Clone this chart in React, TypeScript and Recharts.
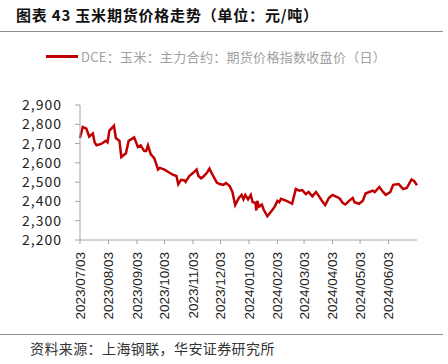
import { Legend, Line, LineChart, XAxis, YAxis } from "recharts";

const dates = [
  "2023/07/03", "2023/07/06", "2023/07/10", "2023/07/13", "2023/07/17", "2023/07/19",
  "2023/07/21", "2023/07/26", "2023/07/31", "2023/08/02", "2023/08/04", "2023/08/09",
  "2023/08/11", "2023/08/15", "2023/08/17", "2023/08/22", "2023/08/25", "2023/08/31",
  "2023/09/04", "2023/09/07", "2023/09/11", "2023/09/13", "2023/09/15", "2023/09/18",
  "2023/09/22", "2023/09/26", "2023/09/28", "2023/10/03", "2023/10/08", "2023/10/12",
  "2023/10/16", "2023/10/18", "2023/10/21", "2023/10/25", "2023/10/26", "2023/10/30",
  "2023/11/03", "2023/11/07", "2023/11/09", "2023/11/12", "2023/11/15", "2023/11/18",
  "2023/11/21", "2023/11/25", "2023/11/29", "2023/12/02", "2023/12/06", "2023/12/09",
  "2023/12/13", "2023/12/16", "2023/12/19", "2023/12/23", "2023/12/26", "2023/12/28",
  "2023/12/30", "2024/01/02", "2024/01/05", "2024/01/07", "2024/01/10", "2024/01/11",
  "2024/01/12", "2024/01/14", "2024/01/17", "2024/01/19", "2024/01/23", "2024/01/28",
  "2024/01/31", "2024/02/03", "2024/02/05", "2024/02/07", "2024/02/13", "2024/02/19",
  "2024/02/23", "2024/02/27", "2024/03/01", "2024/03/05", "2024/03/08", "2024/03/12",
  "2024/03/16", "2024/03/19", "2024/03/23", "2024/03/26", "2024/03/30", "2024/04/03",
  "2024/04/08", "2024/04/11", "2024/04/14", "2024/04/17", "2024/04/21", "2024/04/25",
  "2024/04/27", "2024/05/02", "2024/05/06", "2024/05/09", "2024/05/13", "2024/05/17",
  "2024/05/19", "2024/05/24", "2024/05/28", "2024/05/31", "2024/06/05", "2024/06/08",
  "2024/06/14", "2024/06/19", "2024/06/23", "2024/06/28", "2024/07/01", "2024/07/04",
];

const prices = [
  2729, 2786, 2777, 2736, 2752, 2706,
  2691, 2698, 2714, 2706, 2767, 2792,
  2729, 2714, 2630, 2650, 2714, 2732,
  2683, 2691, 2661, 2661, 2691, 2645,
  2623, 2565, 2574, 2565, 2550, 2539,
  2532, 2489, 2512, 2509, 2501, 2532,
  2547, 2565, 2532, 2520, 2532, 2547,
  2570, 2532, 2498, 2490, 2486, 2495,
  2480, 2449, 2381, 2418, 2434, 2411,
  2434, 2411, 2434, 2396, 2393, 2353,
  2403, 2373, 2384, 2358, 2323, 2353,
  2373, 2403, 2396, 2414, 2403, 2388,
  2464, 2456, 2459, 2438, 2449, 2426,
  2449, 2429, 2399, 2381, 2418, 2434,
  2423, 2414, 2393, 2384, 2403, 2418,
  2396, 2388, 2403, 2441, 2449, 2456,
  2449, 2475, 2449, 2434, 2449, 2486,
  2490, 2464, 2471, 2514, 2505, 2484,
];

const tickLabels = [
  "2023/07/03", "2023/08/03", "2023/09/03", "2023/10/03", "2023/11/03", "2023/12/03",
  "2024/01/03", "2024/02/03", "2024/03/03", "2024/04/03", "2024/05/03", "2024/06/03",
];

const yTicks = [2200, 2300, 2400, 2500, 2600, 2700, 2800, 2900];
const axisStart = "2023/07/03";
const axisEnd = "2024/07/04";

const seriesName = "DCE：玉米：主力合约：期货价格指数收盘价（日）";

const toTime = (s: string): number => {
  const [y, m, d] = s.split("/").map(Number);
  return Date.UTC(y, m - 1, d);
};

const fmtDate = (t: number): string => {
  const d = new Date(t);
  const mm = String(d.getUTCMonth() + 1).padStart(2, "0");
  const dd = String(d.getUTCDate()).padStart(2, "0");
  return `${d.getUTCFullYear()}/${mm}/${dd}`;
};

const data = dates.map((d, i) => ({ t: toTime(d), price: prices[i] }));

interface TickProps {
  x?: number;
  y?: number;
  payload?: { value: number };
}

function DateTick({ x = 0, y = 0, payload }: TickProps) {
  return (
    <text
      transform={`translate(${x},${y + 6}) rotate(-90)`}
      textAnchor="end"
      dy="0.36em"
      fontSize={13.5}
      fontFamily="'Liberation Sans', Arial, sans-serif"
      fill="#222"
    >
      {payload ? fmtDate(payload.value) : ""}
    </text>
  );
}

function LegendContent() {
  return (
    <div style={{ display: "flex", alignItems: "center", paddingLeft: 46 }}>
      <span
        style={{ width: 32, height: 3, background: "#C00000", display: "inline-block" }}
      />
      <span
        style={{
          marginLeft: 3,
          fontSize: 13,
          letterSpacing: 0.3,
          color: "#a0a0a0",
          fontFamily: "'Noto Sans CJK SC', sans-serif",
          whiteSpace: "nowrap",
        }}
      >
        {seriesName}
      </span>
    </div>
  );
}

export default function App() {
  return (
    <div
      style={{
        position: "absolute",
        left: 0,
        top: 0,
        width: 448,
        height: 364,
        background: "#fff",
        fontFamily: "'Noto Sans CJK SC', sans-serif",
      }}
    >
      <div
        style={{
          position: "absolute",
          left: 16,
          top: 4,
          fontSize: 15,
          fontWeight: 700,
          letterSpacing: 0.8,
          color: "#111",
          whiteSpace: "nowrap",
        }}
      >
        图表 43 玉米期货价格走势（单位：元/吨）
      </div>
      <div
        style={{
          position: "absolute",
          left: 0,
          top: 31,
          width: 443,
          height: 1,
          background: "#8c8c8c",
        }}
      />
      <LineChart
        width={448}
        height={364}
        data={data}
        margin={{ top: 86, right: 31, left: 0, bottom: 34 }}
      >
        <XAxis
          dataKey="t"
          type="number"
          scale="time"
          domain={[toTime(axisStart), toTime(axisEnd)]}
          ticks={tickLabels.map(toTime)}
          tick={<DateTick />}
          height={90}
          interval={0}
          stroke="#a6a6a6"
          tickSize={4}
        />
        <YAxis
          domain={[2200, 2900]}
          ticks={yTicks}
          width={80}
          interval={0}
          stroke="#a6a6a6"
          tickSize={5}
          tickMargin={13}
          tickFormatter={(v: number) => v.toLocaleString("en-US")}
          tick={{
            fontSize: 14,
            fill: "#222",
            letterSpacing: 1,
            fontFamily: "'Noto Sans CJK SC', sans-serif",
          }}
        />
        <Legend
          verticalAlign="top"
          content={<LegendContent />}
          wrapperStyle={{ top: 47, left: 0, width: 448 }}
        />
        <Line
          type="linear"
          dataKey="price"
          name={seriesName}
          stroke="#C00000"
          strokeWidth={2.5}
          dot={false}
          isAnimationActive={false}
        />
      </LineChart>
      <div
        style={{
          position: "absolute",
          left: 0,
          top: 334,
          width: 443,
          height: 1,
          background: "#8c8c8c",
        }}
      />
      <div
        style={{
          position: "absolute",
          left: 30,
          top: 338,
          fontSize: 14,
          letterSpacing: 0.4,
          color: "#333",
          whiteSpace: "nowrap",
        }}
      >
        资料来源：上海钢联，华安证券研究所
      </div>
    </div>
  );
}
